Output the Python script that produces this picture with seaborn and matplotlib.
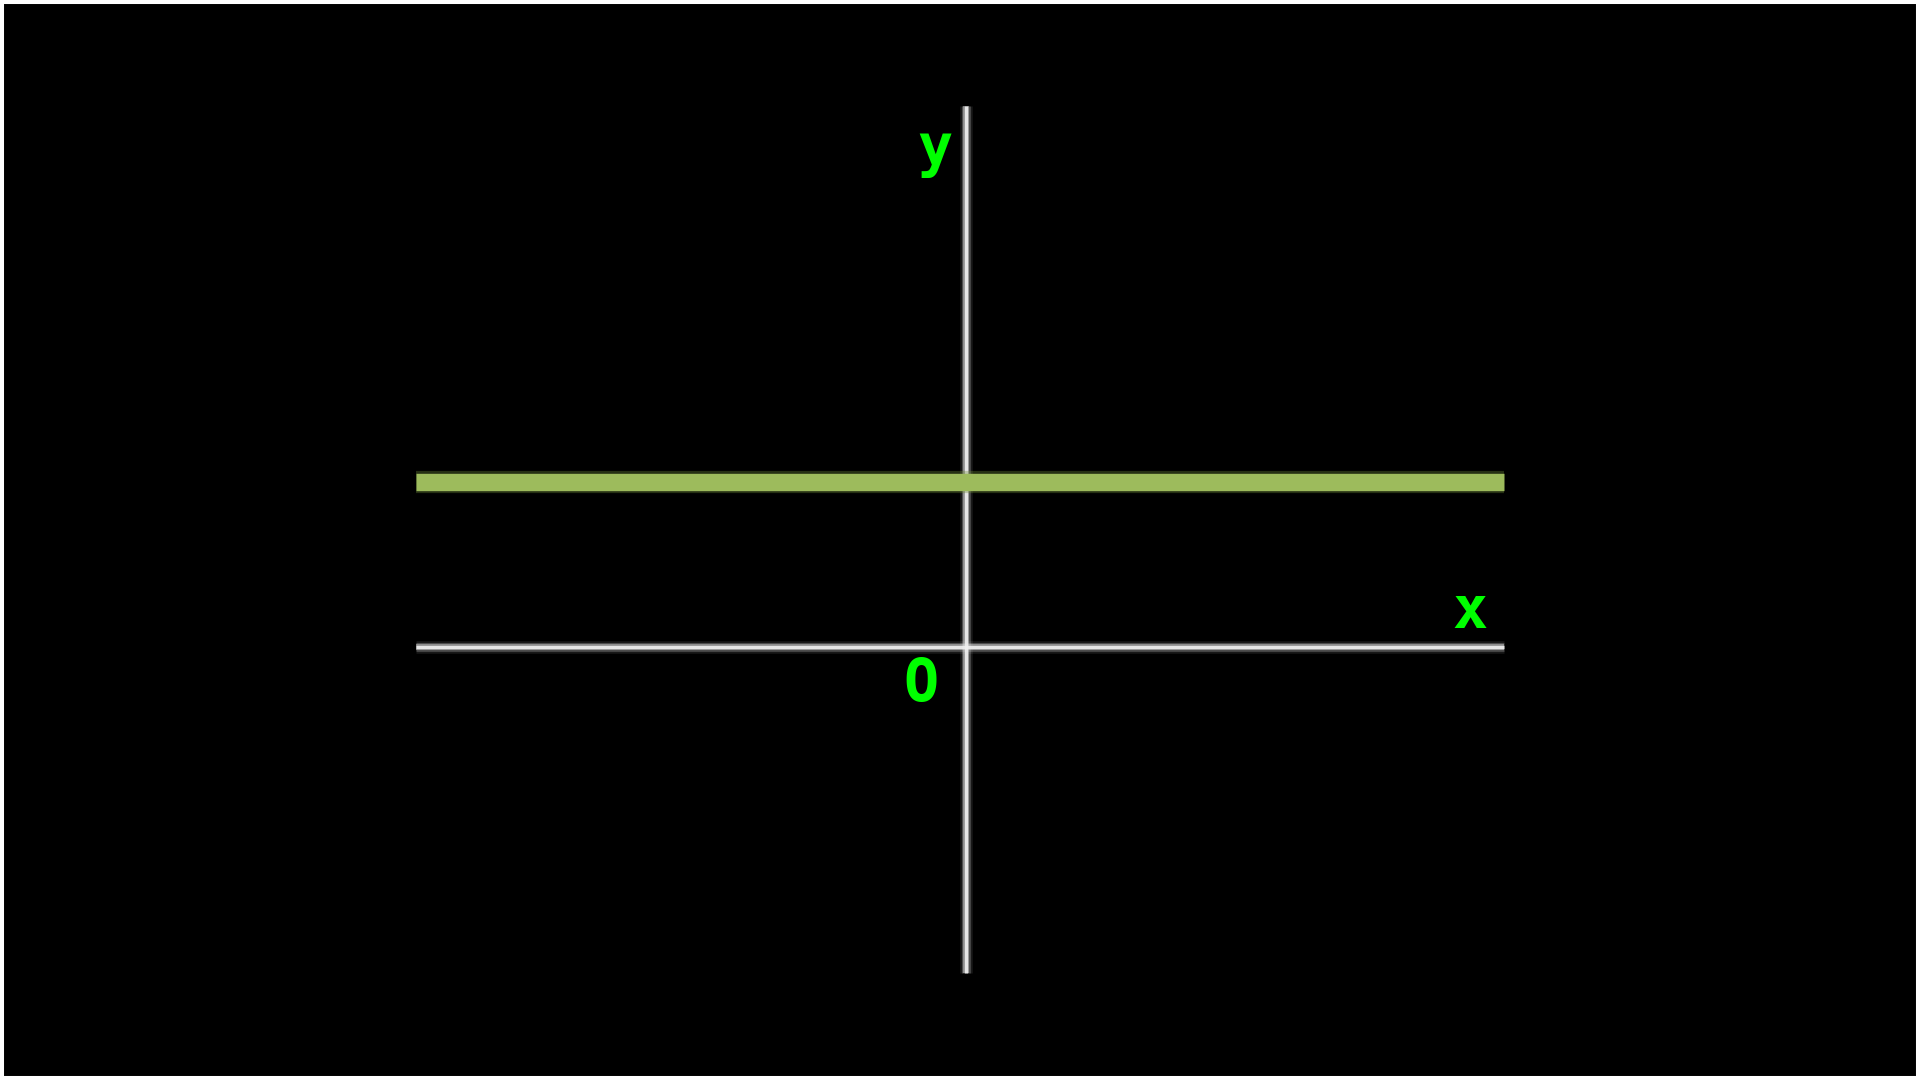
import matplotlib
matplotlib.use("Agg")
import matplotlib.pyplot as plt
import seaborn as sns
import pandas as pd

# data (1 unit = 100 px, origin at the crossing of the axes)
axis_x_span = [-5.50, 5.38]
axis_y_span = [-3.26, 5.41]
const_value = 1.65
labels = ["y", "x", "O"]
label_pos = [(-0.31, 4.97), (5.04, 0.35), (-0.45, -0.38)]

sns.set_theme(style="dark")
plt.rcParams['font.family'] = ['DejaVu Sans Mono', 'DejaVu Sans']

fig = plt.figure(figsize=(19.2, 10.8), dpi=100, facecolor="black")
ax = fig.add_axes([0, 0, 1, 1])
ax.set_facecolor("black")

xaxis_df = pd.DataFrame({"x": axis_x_span, "y": [0, 0]})
yaxis_df = pd.DataFrame({"x": [0, 0], "y": axis_y_span})
const_df = pd.DataFrame({"x": axis_x_span, "y": [const_value, const_value]})

# glow layers for the white axes (soft grey edges, bright centre)
for lw, a, c in [(9, 0.12, "#c8c8c8"), (6.5, 0.25, "#c8c8c8"),
                 (4.5, 0.5, "#d8d8d8"), (2.4, 0.9, "#f0f0f0")]:
    sns.lineplot(data=xaxis_df, x="x", y="y", ax=ax, color=c,
                 lw=lw, alpha=a, solid_capstyle="butt", sort=False,
                 estimator=None)
    sns.lineplot(data=yaxis_df, x="x", y="y", ax=ax, color=c,
                 lw=lw, alpha=a, solid_capstyle="butt", sort=False,
                 estimator=None)

# the constant function line
for lw, a, c in [(16, 0.35, "#6f8a3a"), (12.5, 1.0, "#9dbb5c")]:
    sns.lineplot(data=const_df, x="x", y="y", ax=ax, color=c,
                 lw=lw, alpha=a, solid_capstyle="butt", sort=False,
                 estimator=None)

for txt, (px, py) in zip(labels, label_pos):
    ax.text(px, py, txt, color="#00ff00", fontsize=42, fontweight="bold",
            ha="center", va="center")

ax.set_xlim(-9.66, 9.54)
ax.set_ylim(-4.33, 6.47)
ax.set_xticks([])
ax.set_yticks([])
ax.set_xlabel("")
ax.set_ylabel("")
for s in ax.spines.values():
    s.set_visible(True)
    s.set_color("white")
    s.set_linewidth(5.8)

fig.savefig("out.png", dpi=100, facecolor="black")
